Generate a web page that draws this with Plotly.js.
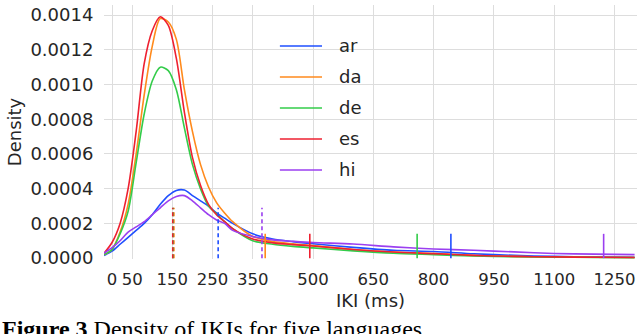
<!DOCTYPE html>
<html>
<head>
<meta charset="utf-8">
<script src="https://cdn.plot.ly/plotly-3.0.1.min.js"></script>
<style>
  html, body { margin: 0; padding: 0; background: #fff; }
  #graph { width: 640px; height: 334px; }
</style>
</head>
<body>
<div id="graph"></div>
<script>
// IKI grid (ms) the densities were read at
const iki = [-20, 0, 20, 40, 60, 80, 100, 120, 140, 160, 180, 200, 220, 240, 260, 280, 300, 350, 400, 450, 500, 600, 700, 800, 900, 1000, 1100, 1200, 1300];

const langs = ['ar', 'da', 'de', 'es', 'hi'];

const densAr = [0.000015, 0.00004, 0.00008, 0.00012, 0.00016, 0.0002, 0.00025, 0.00031, 0.00036, 0.00039, 0.000392, 0.00036, 0.00033, 0.0003, 0.00026, 0.00023, 0.0002, 0.00014, 0.00011, 0.000095, 0.000083, 0.000062, 0.000045, 0.000038, 0.000025, 0.000016, 0.00001, 0.000007, 0.000005];
const densDa = [0.00002, 0.00005, 0.00015, 0.00031, 0.0006, 0.00094, 0.00122, 0.00138, 0.00136, 0.00126, 0.00097, 0.00073, 0.00054, 0.00041, 0.00032, 0.00026, 0.00021, 0.000125, 0.000095, 0.000082, 0.000072, 0.00005, 0.000035, 0.000026, 0.000015, 0.00001, 0.000007, 0.000005, 0.000004];
const densDe = [0.00002, 0.00005, 0.00014, 0.00027, 0.00055, 0.00083, 0.00102, 0.0011, 0.00108, 0.00097, 0.00075, 0.00054, 0.0004, 0.0003, 0.000255, 0.00021, 0.00017, 0.0001, 0.00008, 0.000068, 0.000059, 0.000042, 0.000028, 0.00002, 0.000012, 0.000008, 0.000006, 0.000004, 0.000003];
const densEs = [0.000028, 0.00009, 0.0002, 0.0004, 0.00073, 0.00112, 0.00131, 0.00139, 0.00134, 0.00115, 0.00084, 0.00058, 0.00042, 0.00031, 0.00025, 0.00021, 0.00017, 0.00011, 0.000088, 0.000078, 0.00007, 0.00005, 0.000035, 0.000026, 0.000016, 0.00001, 0.000007, 0.000005, 0.000004];
const densHi = [0.000028, 0.00006, 0.0001, 0.00015, 0.00018, 0.00021, 0.00025, 0.00029, 0.00033, 0.000355, 0.00036, 0.00033, 0.00029, 0.00025, 0.00022, 0.0002, 0.00016, 0.000125, 0.000105, 0.000097, 0.00009, 0.000081, 0.000065, 0.000053, 0.000045, 0.000036, 0.000027, 0.000023, 0.00002];

// dashed markers (median) and solid markers (upper percentile), ms
const medianIki = [264, 154, 152, 151, 373];
const upperIki = [843, 381, 759, 492, 1223];

const xTicks = [0, 50, 150, 250, 350, 500, 650, 800, 950, 1100, 1250];

const colors = ['#1f4fff', '#ff8a1c', '#33cc4a', '#ee2030', '#9b3ff0'];
const dens = [densAr, densDa, densDe, densEs, densHi];

let data = [];
langs.forEach(function(l, i) {
    data.push({
        x: iki, y: dens[i], type: 'scatter', mode: 'lines', name: l,
        line: {color: colors[i], width: 1.6, shape: 'spline', smoothing: 0.8}
    });
});
langs.forEach(function(l, i) {
    data.push({
        x: [medianIki[i], medianIki[i]], y: [0, 0.00029], type: 'scatter', mode: 'lines',
        showlegend: false, hoverinfo: 'skip',
        line: {color: colors[i], width: 1.6, dash: '4px,3px'}
    });
    data.push({
        x: [upperIki[i], upperIki[i]], y: [0, 0.00014], type: 'scatter', mode: 'lines',
        showlegend: false, hoverinfo: 'skip',
        line: {color: colors[i], width: 1.6}
    });
});

const font = {family: 'DejaVu Sans', size: 18, color: '#262626'};
const xFont = {family: 'DejaVu Sans', size: 16.5, color: '#262626'};

// legend drawn by hand so the key lines are as long as in the original
let shapes = [];
let annotations = [];
langs.forEach(function(l, i) {
    let yy = 0.8386 - i * 0.122;
    shapes.push({
        type: 'line', xref: 'paper', yref: 'paper',
        x0: 0.330, x1: 0.409, y0: yy, y1: yy,
        line: {color: colors[i], width: 1.6}
    });
    annotations.push({
        xref: 'paper', yref: 'paper', x: 0.437, y: yy,
        xanchor: 'left', yanchor: 'middle', showarrow: false,
        text: l, font: font
    });
});
annotations.push({
    xref: 'paper', yref: 'paper', x: -0.195, y: -0.2165,
    xanchor: 'left', yanchor: 'top', showarrow: false,
    text: '<b>Figure 3</b> Density of IKIs for five languages',
    font: {family: 'Liberation Serif', size: 24, color: '#000'}
});

let layout = {
    width: 640, height: 334,
    margin: {l: 104, r: 3, t: 5, b: 75},
    paper_bgcolor: '#fff', plot_bgcolor: '#fff',
    font: font,
    showlegend: false,
    xaxis: {
        range: [-20, 1306],
        tickvals: xTicks,
        showgrid: true, gridcolor: '#dddddd', gridwidth: 1,
        zeroline: false, showline: false,
        ticks: 'outside', ticklen: 5, tickcolor: 'rgba(0,0,0,0)',
        tickfont: xFont,
        title: {text: 'IKI (ms)', font: font, standoff: 6}
    },
    yaxis: {
        range: [-0.000005, 0.001458],
        dtick: 0.0002, tick0: 0,
        tickformat: '.4f',
        showgrid: true, gridcolor: '#dddddd', gridwidth: 1,
        zeroline: false, showline: false,
        ticks: 'outside', ticklen: 6, tickcolor: 'rgba(0,0,0,0)',
        tickfont: font,
        title: {text: 'Density', font: font, standoff: 4}
    },
    shapes: shapes,
    annotations: annotations
};

Plotly.newPlot('graph', data, layout, {displayModeBar: false, staticPlot: true});
</script>
</body>
</html>
